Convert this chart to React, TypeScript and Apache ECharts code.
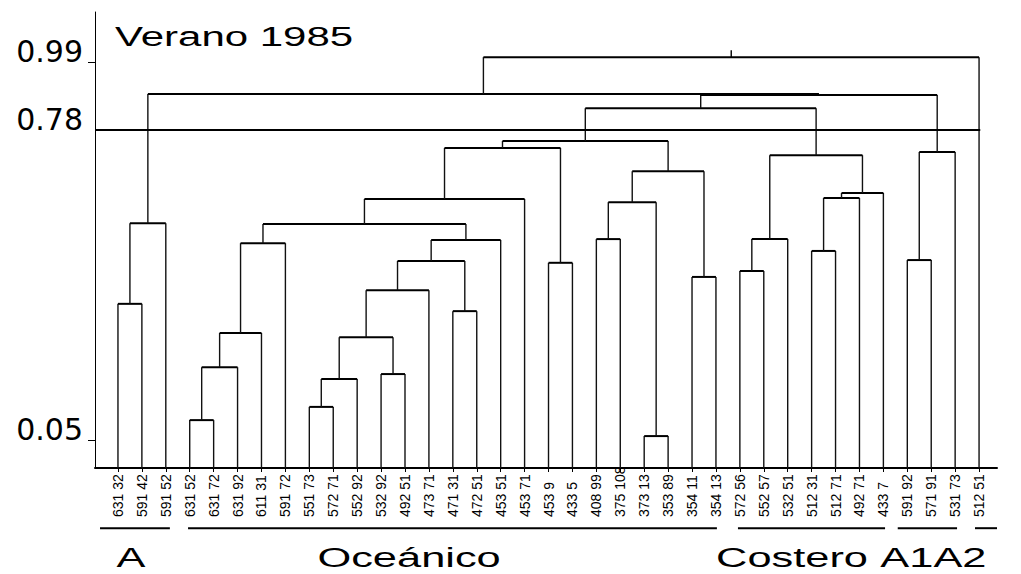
import { useEffect, useRef } from 'react';
import * as echarts from 'echarts';

// Stations (leaves of the dendrogram), left to right
const leafLabels = [
  '631 32', '591 42', '591 52', '631 52', '631 72', '631 92', '611 31', '591 72',
  '551 73', '572 71', '552 92', '532 92', '492 51', '473 71', '471 31', '472 51',
  '453 51', '453 71', '453 9', '433 5', '408 99', '375 108', '373 13', '353 89',
  '354 11', '354 13', '572 56', '552 57', '532 51', '512 31', '512 71', '492 71',
  '433 7', '591 92', '571 91', '531 73', '512 51',
];

// Agglomeration steps: [left node, right node, fusion level].
// Nodes 0..36 are the leaves; step k creates node 37 + k.
const merges: [number, number, number][] = [
  [0, 1, 36.0],
  [37, 2, 53.7],
  [3, 4, 10.5],
  [39, 5, 22.1],
  [40, 6, 29.6],
  [41, 7, 49.3],
  [8, 9, 13.4],
  [43, 10, 19.5],
  [11, 12, 20.6],
  [44, 45, 28.7],
  [46, 13, 39.0],
  [14, 15, 34.4],
  [47, 48, 45.4],
  [49, 16, 50.0],
  [42, 50, 53.5],
  [51, 17, 59.0],
  [18, 19, 45.0],
  [52, 53, 70.2],
  [20, 21, 50.2],
  [22, 23, 7.0],
  [55, 56, 58.3],
  [24, 25, 41.9],
  [57, 58, 65.1],
  [54, 59, 71.7],
  [26, 27, 43.2],
  [61, 28, 50.2],
  [29, 30, 47.6],
  [63, 31, 59.2],
  [64, 32, 60.3],
  [62, 65, 68.6],
  [60, 66, 78.9],
  [33, 34, 45.6],
  [68, 35, 69.3],
  [67, 69, 81.8],
  [38, 70, 82.0],
  [71, 36, 90.1],
];

// Similarity scale marks on the level axis
const levelTickValues = [6.1, 74.1, 89.0];
const levelTickLabels = ['0.05', '0.78', '0.99'];
const cutLevel = 74.1;

// Station groups
const groupNames = ['A', 'Oceánico', 'Costero', 'A1', 'A2'];
const groupFrom = [-0.75, 2.93, 25.92, 32.6, 35.83];
const groupTo = [2.17, 25.04, 32.07, 35.08, 36.75];
const groupLabelAt = [0.54, 12.17, 28.18, 32.98, 35.2];

const title = 'Verano 1985';

// Layout constants (axis units)
const X_MIN = -0.96;
const X_MAX = 36.75;
const CUT_END = 36.05;
const UNDERLINE_LEVEL = -13.2;
const GROUP_TEXT_LEVEL = -19.5;
const ROOT_STUB = 1.5;

const SANS = "'Liberation Sans', Arial, sans-serif";

// Node positions along the leaf axis and their fusion levels
const nodeX: number[] = leafLabels.map((_, i) => i);
const nodeLevel: number[] = leafLabels.map(() => 0);
merges.forEach(([a, b, h]) => {
  nodeX.push((nodeX[a] + nodeX[b]) / 2);
  nodeLevel.push(h);
});

const linkData = merges.map(([a, b, h]) => [nodeX[a], nodeLevel[a], nodeX[b], nodeLevel[b], h]);
const groupData = groupNames.map((_, i) => [groupLabelAt[i], groupFrom[i], groupTo[i]]);

const leafTicks = leafLabels.map((_, i) => i);

function buildOption(): any {
  return {
    animation: false,
    backgroundColor: '#ffffff',
    grid: { left: 95, right: 24, top: 12, bottom: 106, containLabel: false, outerBoundsMode: 'none' },
    xAxis: {
      type: 'value',
      min: X_MIN,
      max: X_MAX,
      splitLine: { show: false },
      axisLine: { show: true, onZero: false, lineStyle: { color: '#000', width: 2 } },
      axisTick: { show: true, customValues: leafTicks, length: 4, lineStyle: { color: '#000', width: 1 } },
      axisLabel: {
        show: true,
        customValues: leafTicks,
        rotate: 90,
        align: 'left',
        verticalAlign: 'middle',
        margin: 49,
        fontSize: 14,
        fontFamily: SANS,
        color: '#000',
        formatter: (v: number) => leafLabels[Math.round(v)] ?? '',
      },
    },
    yAxis: {
      type: 'value',
      min: 0,
      max: 100,
      splitLine: { show: false },
      axisLine: { show: true, onZero: false, lineStyle: { color: '#000', width: 1 } },
      axisTick: { show: true, customValues: [levelTickValues[0], levelTickValues[2]], length: 7, lineStyle: { color: '#000', width: 1 } },
      axisLabel: {
        show: true,
        customValues: levelTickValues,
        margin: 12,
        fontSize: 30,
        lineHeight: 22,
        fontFamily: "'DejaVu Sans', sans-serif",
        color: '#000',
        verticalAlign: 'bottom',
        formatter: (v: number) => {
          const i = levelTickValues.findIndex((t) => Math.abs(t - v) < 0.01);
          return i >= 0 ? levelTickLabels[i] : '';
        },
      },
    },
    series: [
      {
        type: 'custom',
        name: 'links',
        silent: true,
        clip: false,
        encode: { x: [0, 2], y: [1, 3, 4] },
        data: linkData,
        renderItem: (params: any, api: any) => {
          const xl = api.value(0);
          const hl = api.value(1);
          const xr = api.value(2);
          const hr = api.value(3);
          const h = api.value(4);
          const lb = api.coord([xl, hl]);
          const lt = api.coord([xl, h]);
          const rt = api.coord([xr, h]);
          const rb = api.coord([xr, hr]);
          const children: any[] = [
            { type: 'line', shape: { x1: lb[0], y1: lb[1], x2: lt[0], y2: lt[1] }, style: { stroke: '#111', lineWidth: 1.4 } },
            { type: 'line', shape: { x1: rb[0], y1: rb[1], x2: rt[0], y2: rt[1] }, style: { stroke: '#111', lineWidth: 1.4 } },
            { type: 'line', shape: { x1: lt[0], y1: lt[1], x2: rt[0], y2: rt[1] }, style: { stroke: '#000', lineWidth: 2 } },
          ];
          if (params.dataIndex === merges.length - 1) {
            const mid = (xl + xr) / 2;
            const a = api.coord([mid, h]);
            const b = api.coord([mid, h + ROOT_STUB]);
            children.push({ type: 'line', shape: { x1: a[0], y1: a[1], x2: b[0], y2: b[1] }, style: { stroke: '#000', lineWidth: 1.4 } });
          }
          return { type: 'group', children };
        },
      },
      {
        type: 'line',
        name: 'cut',
        silent: true,
        symbol: 'none',
        data: [[X_MIN, cutLevel], [CUT_END, cutLevel]],
        lineStyle: { color: '#000', width: 2 },
      },
      {
        type: 'custom',
        name: 'groups',
        silent: true,
        clip: false,
        data: groupData,
        renderItem: (params: any, api: any) => {
          const c = api.coord([api.value(0), GROUP_TEXT_LEVEL]);
          const a = api.coord([api.value(1), UNDERLINE_LEVEL]);
          const b = api.coord([api.value(2), UNDERLINE_LEVEL]);
          return {
            type: 'group',
            children: [
              { type: 'line', shape: { x1: a[0], y1: a[1], x2: b[0], y2: b[1] }, style: { stroke: '#000', lineWidth: 2 } },
              {
                type: 'text',
                x: c[0],
                y: c[1],
                scaleX: 1.55,
                style: {
                  text: groupNames[params.dataIndex],
                  fontSize: 28,
                  lineHeight: 22,
                  fontFamily: SANS,
                  fill: '#000',
                  align: 'center',
                  verticalAlign: 'middle',
                },
              },
            ],
          };
        },
      },
    ],
    graphic: [
      {
        type: 'text',
        x: 115,
        y: 37,
        scaleX: 1.5,
        style: {
          text: title,
          fontSize: 28,
          lineHeight: 24,
          fontFamily: SANS,
          fill: '#000',
          align: 'left',
          verticalAlign: 'middle',
        },
      },
    ],
  };
}

export default function App() {
  const ref = useRef<HTMLDivElement>(null);
  useEffect(() => {
    if (!ref.current) return;
    const chart = echarts.init(ref.current, null, { renderer: 'svg' });
    chart.setOption(buildOption());
    return () => chart.dispose();
  }, []);
  return (
    <div
      ref={ref}
      style={{ position: 'fixed', left: 0, top: 0, width: 1021, height: 574, background: '#fff' }}
    />
  );
}
